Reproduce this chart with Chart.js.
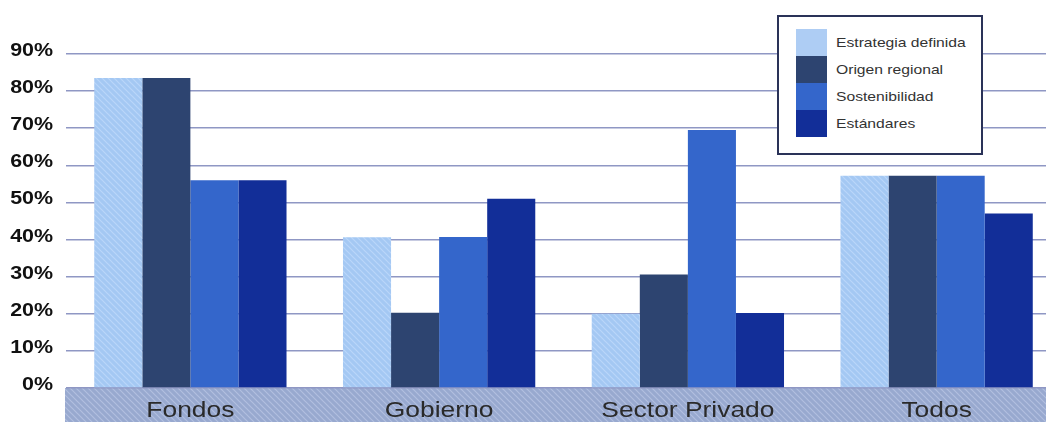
<!DOCTYPE html>
<html>
<head>
<meta charset="utf-8">
<script src="https://cdn.jsdelivr.net/npm/chart.js@4/dist/chart.umd.min.js"></script>
<style>
  html, body { margin: 0; padding: 0; background: #fff; overflow: hidden; }
  #wrap { position: relative; width: 1061px; height: 422px; }
  #legend {
    position: absolute; left: 777px; top: 15px; width: 202px; height: 136px;
    border: 2px solid #2a3258; background: #fff;
    font-family: 'Liberation Sans', Arial, sans-serif; font-size: 13.5px; color: #333;
  }
  .row { position: absolute; left: 17px; height: 27px; display: flex; align-items: center; }
  .sw { width: 31px; height: 27px; margin-right: 9px; }
  .row span { display: inline-block; transform: scaleX(1.16); transform-origin: left center; }
</style>
</head>
<body>
<div id="wrap">
  <canvas id="chart" width="1061" height="422"></canvas>
  <div id="legend"></div>
</div>
<script>
const categories = ['Fondos', 'Gobierno', 'Sector Privado', 'Todos'];
const seriesNames = ['Estrategia definida', 'Origen regional', 'Sostenibilidad', 'Estándares'];
const estrategia = [83.5, 40.6, 20, 57.2];
const origen = [83.5, 20.3, 30.6, 57.2];
const sostenibilidad = [56, 40.7, 69.5, 57.2];
const estandares = [56, 51, 20.2, 47];

function hatch(base, line) {
  const c = document.createElement('canvas');
  c.width = 6; c.height = 6;
  const g = c.getContext('2d');
  g.fillStyle = base;
  g.fillRect(0, 0, 6, 6);
  g.strokeStyle = line;
  g.lineWidth = 1.2;
  g.beginPath();
  g.moveTo(0, 0); g.lineTo(6, 6);
  g.moveTo(-3, 3); g.lineTo(3, 9);
  g.moveTo(3, -3); g.lineTo(9, 3);
  g.stroke();
  return g.createPattern(c, 'repeat');
}

const lightHatch = hatch('#a4c8f3', '#bad6f9');
const bandHatch = hatch('#98a9cf', '#b2bfdf');
const colors = [lightHatch, '#2d4470', '#3466cb', '#122e98'];
const swatchCss = ['#aecdf4', '#2d4470', '#3466cb', '#122e98'];

// the reference type is stretched sideways, so labels are drawn by hand with scaleX
function stretchedText(ctx, text, x, y, align, sx) {
  ctx.save();
  ctx.translate(x, y);
  ctx.scale(sx, 1);
  ctx.textAlign = align;
  ctx.textBaseline = 'alphabetic';
  ctx.fillText(text, 0, 0);
  ctx.restore();
}

const bandPlugin = {
  id: 'band',
  beforeDraw(chart) {
    const { ctx, chartArea, width, height } = chart;
    ctx.save();
    ctx.fillStyle = bandHatch;
    ctx.fillRect(chartArea.left - 1, chartArea.bottom, width - chartArea.left + 1, height - chartArea.bottom);
    ctx.restore();
  },
  afterDraw(chart) {
    const { ctx, scales } = chart;
    ctx.save();
    ctx.fillStyle = '#2a2a2a';
    ctx.font = "22px 'Liberation Sans'";
    categories.forEach((c, i) => {
      stretchedText(ctx, c, scales.x.getPixelForTick(i), 417, 'center', 1.2);
    });
    ctx.fillStyle = '#111';
    ctx.font = "bold 18px 'Liberation Sans'";
    scales.y.ticks.forEach((t) => {
      stretchedText(ctx, t.value + '%', 53, scales.y.getPixelForValue(t.value) + 2, 'right', 1.19);
    });
    ctx.restore();
  },
};

new Chart(document.getElementById('chart'), {
  type: 'bar',
  data: {
    labels: categories,
    datasets: [estrategia, origen, sostenibilidad, estandares].map((d, i) => ({
      label: seriesNames[i],
      data: d,
      backgroundColor: colors[i],
      borderWidth: 0,
      barPercentage: 1,
      categoryPercentage: 0.773,
    })),
  },
  options: {
    responsive: false,
    animation: false,
    layout: { padding: { top: 54, left: 0, right: 0, bottom: 0 } },
    plugins: { legend: { display: false }, tooltip: { enabled: false } },
    scales: {
      x: {
        grid: { display: false },
        border: { display: false },
        ticks: { display: false },
        afterFit: (s) => { s.height = 34; },
      },
      y: {
        min: 0,
        max: 90,
        ticks: { stepSize: 10, display: false },
        grid: { color: '#8f97c4', lineWidth: 1.5, drawTicks: false },
        border: { display: false },
        afterFit: (s) => { s.width = 66; },
      },
    },
  },
  plugins: [bandPlugin],
});

const legend = document.getElementById('legend');
seriesNames.forEach((name, i) => {
  const row = document.createElement('div');
  row.className = 'row';
  row.style.top = (12 + i * 27) + 'px';
  row.innerHTML = `<div class="sw" style="background:${swatchCss[i]}"></div><span>${name}</span>`;
  legend.appendChild(row);
});
</script>
</body>
</html>
